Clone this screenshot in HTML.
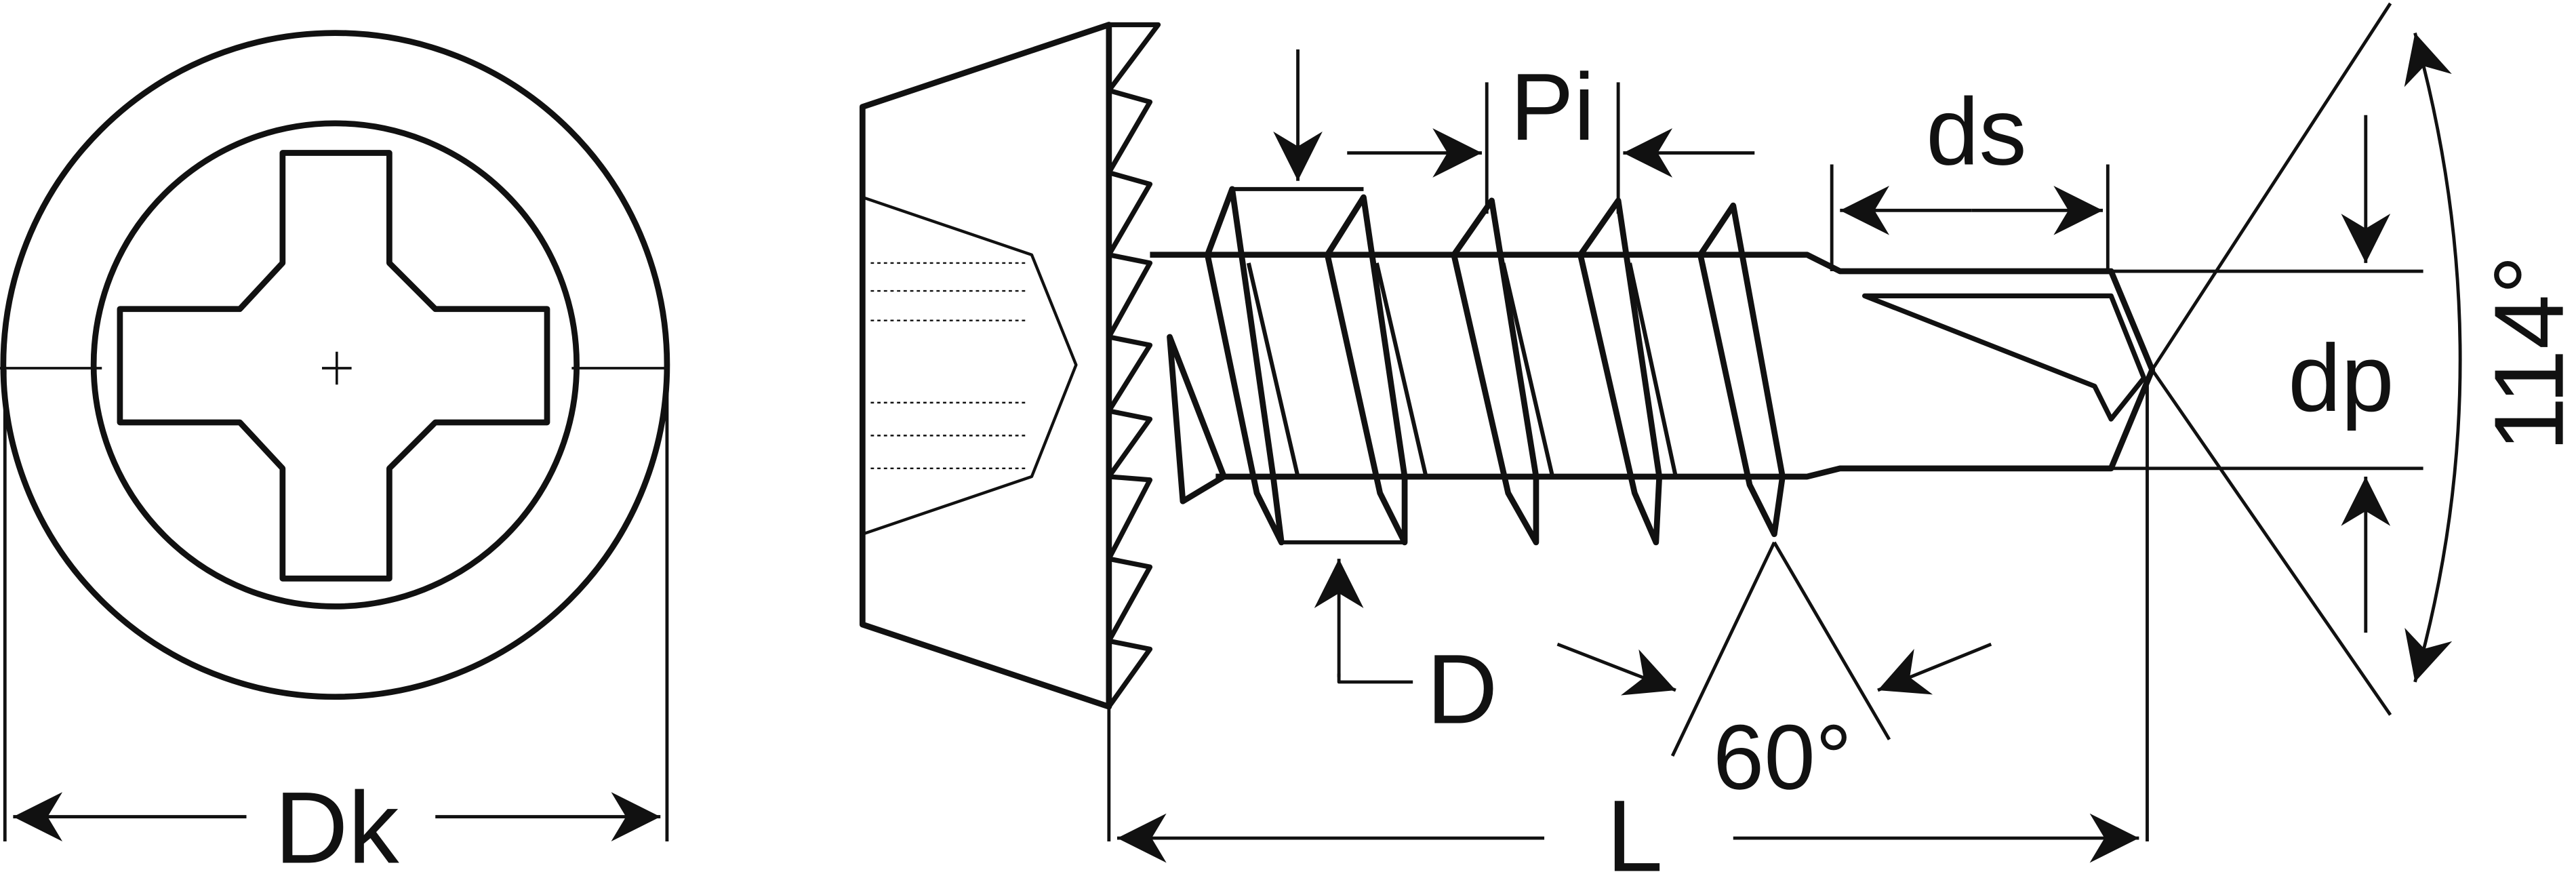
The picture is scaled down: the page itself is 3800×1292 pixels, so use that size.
<!DOCTYPE html>
<html><head><meta charset="utf-8"><style>
html,body{margin:0;padding:0;background:#fff;}
svg{display:block;}
text{font-family:"Liberation Sans","DejaVu Sans",sans-serif;fill:#111;}
</style></head><body>
<svg width="3800" height="1292" viewBox="0 0 1568 533" xmlns="http://www.w3.org/2000/svg">
<defs>
<marker id="b" viewBox="0 0 10 10" refX="10" refY="5" markerWidth="40" markerHeight="30" orient="auto-start-reverse" markerUnits="userSpaceOnUse">
<path d="M0,0 L10,5 L0,10 L3,5 z" fill="#111"/></marker>
</defs>
<g fill="none" stroke="#111" stroke-width="3.6" stroke-linejoin="round">
<circle cx="204" cy="222" r="202"/>
<circle cx="204" cy="222" r="147"/>
<path d="M172,93 L237,93 L237,160 L265,188 L333,188 L333,257 L265,257 L237,285 L237,352 L172,352 L172,285 L146,257 L73,257 L73,188 L146,188 L172,160 Z"/>
<path d="M0,224 L62,224 M348,224 L407,224 M196,224 L214,224 M205,214 L205,234" stroke-width="1.5"/>
<path d="M3,225 L3,512 M406,225 L406,512" stroke-width="2"/>
<path d="M150,497 L8,497" marker-end="url(#b)" stroke-width="2"/>
<path d="M265,497 L402,497" marker-end="url(#b)" stroke-width="2"/>
<path d="M525,65 L675,15 L675,430 L525,380 Z"/>
<path d="M675,15 L705,15 L675,55 L700,62 L675,105 L700,112 L675,155 M675,290 L700,292 L675,340 L700,345 L675,390 L700,395 L675,430 M675,155 L700,160 L675,205 L700,210 L675,250 L700,255 L675,290" stroke-width="3"/>
<path d="M525,120 L628,155 L655,222 L628,290 L525,325" stroke-width="1.8"/>
<path d="M530,160 L625,160 M530,177 L625,177 M530,195 L625,195 M530,245 L625,245 M530,265 L625,265 M530,285 L625,285" stroke-width="1" stroke-dasharray="2,2"/>
<path d="M700,155 L1100,155 L1120,165 L1285,165 L1310,225 L1285,285 L1120,285 L1100,290 L740,290"/>
<path d="M712,205 L745,290 L720,305 L712,205 Z"/>
<path d="M1135,180 L1285,180 L1305,230 L1285,255 L1275,235 Z" stroke-width="3"/>
<path d="M735,155 L750,115 L775,290 L780,330 L765,300 Z"/>
<path d="M808,155 L830,120 L855,290 L855,330 L840,300 Z"/>
<path d="M885,155 L908,122 L935,290 L935,330 L918,300 Z"/>
<path d="M962,155 L985,122 L1010,290 L1008,330 L995,300 Z"/>
<path d="M1035,155 L1055,125 L1085,290 L1080,325 L1065,295 Z"/>
<path d="M750,115 L830,115 M780,330 L855,330" stroke-width="2.5"/>
<path d="M760,160 L790,290 M838,160 L868,290 M915,160 L945,290 M992,160 L1020,290" stroke-width="2.5"/>
<path d="M675,430 L675,512 M1307,230 L1307,512" stroke-width="2"/>
<path d="M940,510 L680,510" marker-end="url(#b)" stroke-width="2"/>
<path d="M1055,510 L1302,510" marker-end="url(#b)" stroke-width="2"/>
<path d="M1080,330 L1018,460 M1080,330 L1150,450" stroke-width="2"/>
<path d="M948,392 L1020,420" marker-end="url(#b)" stroke-width="2"/>
<path d="M1212,392 L1143,420" marker-end="url(#b)" stroke-width="2"/>
<path d="M1310,225 L1455,2 M1310,225 L1455,435" stroke-width="2"/>
<path d="M1470,20 Q1525,220 1470,415" stroke-width="2" marker-start="url(#b)" marker-end="url(#b)"/>
<path d="M1285,165 L1475,165 M1285,285 L1475,285" stroke-width="2"/>
<path d="M1440,70 L1440,160" marker-end="url(#b)" stroke-width="2"/>
<path d="M1440,385 L1440,290" marker-end="url(#b)" stroke-width="2"/>
<path d="M1115,100 L1115,165 M1283,100 L1283,165" stroke-width="2"/>
<path d="M1200,128 L1120,128" marker-end="url(#b)" stroke-width="2"/>
<path d="M1200,128 L1280,128" marker-end="url(#b)" stroke-width="2"/>
<path d="M905,50 L905,130 M985,50 L985,130" stroke-width="2"/>
<path d="M820,93 L902,93" marker-end="url(#b)" stroke-width="2"/>
<path d="M1068,93 L988,93" marker-end="url(#b)" stroke-width="2"/>
<path d="M790,30 L790,110" marker-end="url(#b)" stroke-width="2"/>
<path d="M815,412 L815,340" marker-end="url(#b)" stroke-width="2"/>
<path d="M815,410 L815,415 L860,415" stroke-width="2"/>
</g>
<text x="205" y="525" font-size="62" text-anchor="middle">Dk</text>
<text x="995" y="530" font-size="62" text-anchor="middle">L</text>
<text x="1085" y="480" font-size="56" text-anchor="middle">60°</text>
<text x="890" y="440" font-size="60" text-anchor="middle">D</text>
<text x="945" y="85" font-size="58" text-anchor="middle">Pi</text>
<text x="1203" y="100" font-size="58" text-anchor="middle">ds</text>
<text x="1425" y="250" font-size="58" text-anchor="middle">dp</text>
<text x="0" y="0" font-size="60" text-anchor="middle" transform="translate(1560,215) rotate(-90)">114°</text>
</svg>
</body></html>
